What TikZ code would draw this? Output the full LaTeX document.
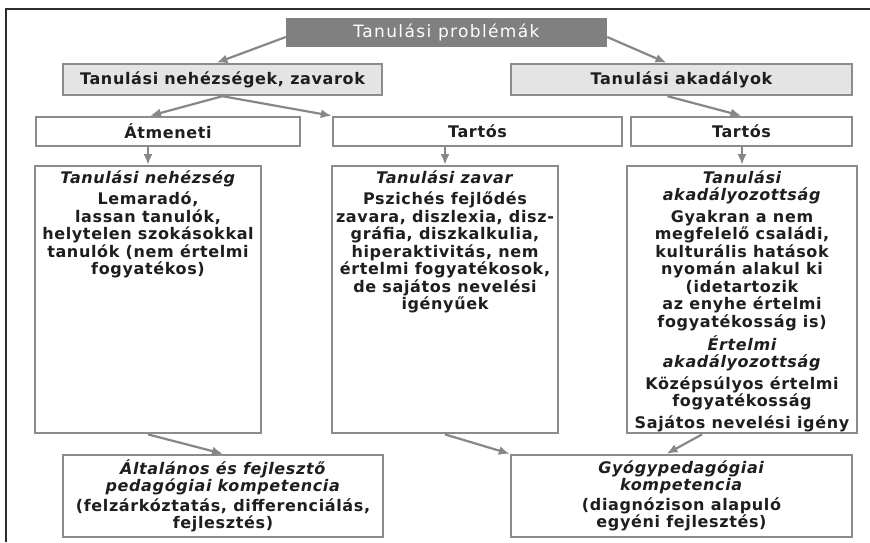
\documentclass[tikz,border=0pt]{standalone}
\usepackage{fontspec}
\setmainfont{DejaVu Sans}[LetterSpace=4]
\usetikzlibrary{arrows.meta}

\definecolor{framedark}{RGB}{45,45,45}
\definecolor{boxgray}{RGB}{140,140,140}
\definecolor{titlegray}{RGB}{128,128,128}
\definecolor{headfill}{RGB}{228,228,228}
\definecolor{arrgray}{RGB}{135,135,135}
\definecolor{textdark}{RGB}{30,30,30}

\begin{document}
\begin{tikzpicture}[x=1pt,y=-1pt,
  font=\fontsize{16}{17.5}\selectfont\bfseries,text=textdark,
  box/.style={draw=boxgray,line width=2.4pt,minimum height=29pt,inner sep=0pt},
  head/.style={box,fill=headfill,minimum height=31pt},
  bigbox/.style={draw=boxgray,line width=2.4pt,fill=white,inner xsep=2pt,inner ysep=4pt,anchor=north},
  arr/.style={draw=arrgray,line width=2.2pt,-{Latex[length=11pt,width=9pt]}}]
\useasboundingbox (0,0) rectangle (870,542);
\draw[framedark,line width=2pt] (870,9) -- (6,9) -- (6,542);

% top levels
\node[box,fill=titlegray,draw=titlegray,text=white,
  font=\fontsize{17}{18}\selectfont\addfontfeatures{LetterSpace=8},
  minimum width=319pt,minimum height=27pt] (title) at (446.5,32.5) {Tanulási problémák};
\node[head,minimum width=319pt] (nehez) at (222.5,79.5) {Tanulási nehézségek, zavarok};
\node[head,minimum width=341pt] (akad) at (681.5,79.5) {Tanulási akadályok};
\node[box,minimum width=264pt] (atm) at (168,131.5) {Átmeneti};
\node[box,minimum width=289pt] (tartA) at (477.5,131.5) {Tartós};
\node[box,minimum width=221pt] (tartB) at (741.5,131.5) {Tartós};

% columns
\node[bigbox] (bigL) at (148,165) {\parbox[t][259pt][t]{222pt}{\centering
  \textit{Tanulási nehézség}\\[4pt]
  Lemaradó,\\ lassan tanulók,\\ helytelen szokásokkal\\ tanulók (nem értelmi\\ fogyatékos)}};
\node[bigbox] (bigM) at (445,165) {\parbox[t][259pt][t]{222pt}{\centering
  \textit{Tanulási zavar}\\[4pt]
  Pszichés fejlődés\\ zavara, diszlexia, disz-\\ gráfia, diszkalkulia,\\ hiperaktivitás, nem\\
  értelmi fogyatékosok,\\ de sajátos nevelési\\ igényűek}};
\node[bigbox] (bigR) at (742,165) {\parbox[t][259pt][t]{226pt}{\centering
  \textit{Tanulási\\ akadályozottság}\\[4pt]
  Gyakran a nem\\ megfelelő családi,\\ kulturális hatások\\ nyomán alakul ki\\ (idetartozik\\
  az enyhe értelmi\\ fogyatékosság is)\\[4pt]
  \textit{Értelmi\\ akadályozottság}\\[4pt]
  Középsúlyos értelmi\\ fogyatékosság\\[4pt]
  Sajátos nevelési igény}};

% competences
\node[box,align=center,minimum width=320pt,minimum height=82pt] (alt) at (223,496)
  {\textit{Általános és fejlesztő}\\ \textit{pedagógiai kompetencia}\\[2pt]
   (felzárkóztatás, differenciálás,\\ fejlesztés)};
\node[box,align=center,minimum width=341pt,minimum height=82pt] (gyogy) at (681.5,496)
  {\textit{Gyógypedagógiai}\\ \textit{kompetencia}\\[2pt]
   (diagnózison alapuló\\ egyéni fejlesztés)};

\draw[arr] ([yshift=-4.5pt]title.west) -- ([xshift=-6pt]nehez.north);
\draw[arr] ([yshift=-4.5pt]title.east) -- ([xshift=-15pt]akad.north);
\draw[arr] (nehez.south) -- ([xshift=-18pt]atm.north);
\draw[arr] (nehez.south) -- (tartA.north west);
\draw[arr] ([xshift=-14pt]akad.south) -- (tartB.north);
\draw[arr] (atm.south -| bigL.north) -- (bigL.north);
\draw[arr] (tartA.south -| bigM.north) -- (bigM.north);
\draw[arr] (tartB.south -| bigR.north) -- (bigR.north);
\draw[arr] (bigL.south) -- (alt.north);
\draw[arr] (bigM.south) -- (gyogy.north west);
\draw[arr] ([xshift=-40pt]bigR.south) -- ([xshift=-15pt]gyogy.north);
\end{tikzpicture}
\end{document}
